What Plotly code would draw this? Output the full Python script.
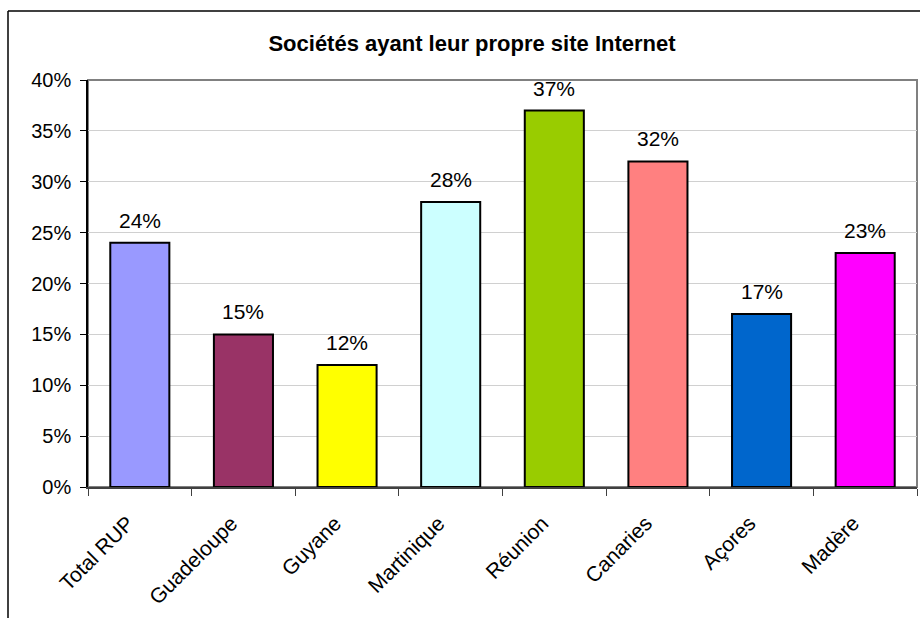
import plotly.graph_objects as go

# Share of companies with their own website, by outermost region
regions = ["Total RUP", "Guadeloupe", "Guyane", "Martinique", "Réunion",
           "Canaries", "Açores", "Madère"]
shares = [0.24, 0.15, 0.12, 0.28, 0.37, 0.32, 0.17, 0.23]
bar_colors = ["#9999FF", "#993366", "#FFFF00", "#CCFFFF", "#99CC00",
              "#FF8080", "#0066CC", "#FF00FF"]
y_ticks = [0, 0.05, 0.10, 0.15, 0.20, 0.25, 0.30, 0.35, 0.40]
y_tick_text = ["0%", "5%", "10%", "15%", "20%", "25%", "30%", "35%", "40%"]

W, H = 920, 618
L, R, T, B = 88, 3, 80, 131
pw, ph = W - L - R, H - T - B


def px_to_paper_x(px):
    return (px - L) / pw


def px_to_paper_y(py):
    return (H - B - py) / ph


font = "Liberation Sans, Arial, sans-serif"

fig = go.Figure(go.Bar(
    x=regions, y=shares,
    marker=dict(color=bar_colors, line=dict(color="black", width=2)),
    hoverinfo="skip",
))

# value labels above each bar
for r, v in zip(regions, shares):
    fig.add_annotation(x=r, y=v, text=f"{round(v * 100)}%", showarrow=False,
                       yanchor="bottom", yshift=9,
                       font=dict(family=font, size=21, color="black"))

shapes = [
    # plot area frame
    dict(type="rect", xref="paper", yref="paper", x0=0, x1=1, y0=0, y1=1,
         line=dict(color="#808080", width=2), layer="below"),
    # outer chart frame (left and top edges)
    dict(type="line", xref="paper", yref="paper",
         x0=px_to_paper_x(8), x1=px_to_paper_x(8),
         y0=px_to_paper_y(11), y1=px_to_paper_y(630),
         line=dict(color="black", width=1.5)),
    dict(type="line", xref="paper", yref="paper",
         x0=px_to_paper_x(8), x1=px_to_paper_x(930),
         y0=px_to_paper_y(11), y1=px_to_paper_y(11),
         line=dict(color="black", width=1.5)),
]

fig.update_layout(
    width=W, height=H,
    margin=dict(l=L, r=R, t=T, b=B, autoexpand=False),
    paper_bgcolor="white", plot_bgcolor="white",
    bargap=0.43,
    showlegend=False,
    shapes=shapes,
    title=dict(text="<b>Sociétés ayant leur propre site Internet</b>",
               x=px_to_paper_x(472), xref="paper", xanchor="center",
               y=1 - 43 / H, yanchor="middle",
               font=dict(family=font, size=22, color="black")),
    font=dict(family=font, size=20, color="black"),
    xaxis=dict(
        type="category", tickangle=-45, ticks="outside", ticklen=7,
        tickson="boundaries", tickcolor="#404040", tickwidth=1,
        ticklabelstandoff=14, ticklabelshift=-12,
        showline=True, linecolor="#404040", linewidth=1.5,
        showgrid=False, tickfont=dict(family=font, size=21, color="black"),
    ),
    yaxis=dict(
        range=[0, 0.40], tickvals=y_ticks, ticktext=y_tick_text,
        ticks="outside", ticklen=6, tickcolor="black", tickwidth=1,
        ticklabelstandoff=5,
        showline=True, linecolor="black", linewidth=1.5,
        showgrid=True, gridcolor="#D0D0D0", gridwidth=1,
        zeroline=False, tickfont=dict(family=font, size=20, color="black"),
    ),
)

fig.write_html("out.html")
